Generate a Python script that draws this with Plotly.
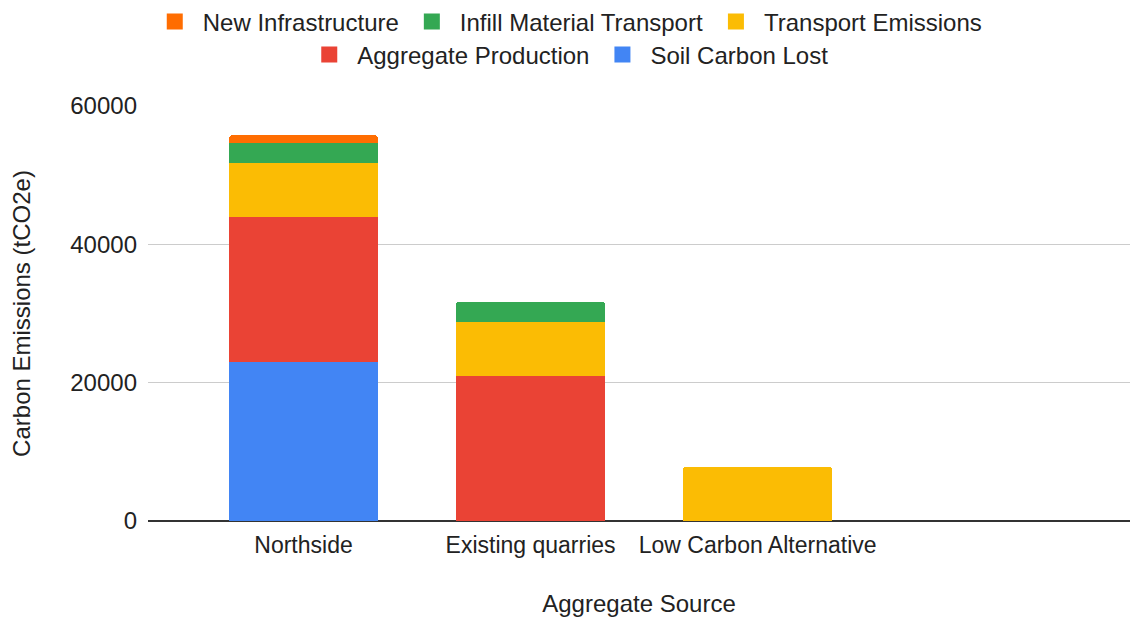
import plotly.graph_objects as go

# Aggregate sources on the x axis
categories = ["Northside", "Existing quarries", "Low Carbon Alternative"]

# Emission components (tCO2e), bottom of the stack first
soil_carbon_lost = [23000, None, None]
aggregate_production = [20900, 21000, None]
transport_emissions = [7800, 7800, 7850]
infill_material_transport = [2900, 2900, None]
new_infrastructure = [1150, None, None]

y_ticks = [0, 20000, 40000, 60000]

FONT = "Liberation Sans, Arial, sans-serif"
TEXT = "#222222"

series = [
    ("Soil Carbon Lost", soil_carbon_lost, "#4285F4", "legend2"),
    ("Aggregate Production", aggregate_production, "#EA4335", "legend2"),
    ("Transport Emissions", transport_emissions, "#FBBC04", "legend"),
    ("Infill Material Transport", infill_material_transport, "#34A853", "legend"),
    ("New Infrastructure", new_infrastructure, "#FF6D01", "legend"),
]

fig = go.Figure()
for name, vals, color, leg in series:
    fig.add_trace(go.Bar(
        name=name, x=categories, y=vals,
        marker=dict(color=color, line=dict(width=0)),
        width=0.656, showlegend=False, legendgroup=name,
    ))

# Legend entries with larger square swatches
for name, vals, color, leg in series:
    fig.add_trace(go.Scatter(
        name=name, x=[None], y=[None], mode="markers",
        marker=dict(symbol="square", size=16, color=color),
        legend=leg, legendgroup=name, showlegend=True, hoverinfo="skip",
    ))

legend_common = dict(
    orientation="h", xanchor="center", yanchor="middle",
    xref="container", yref="container",
    traceorder="reversed", bgcolor="rgba(0,0,0,0)",
    font=dict(family=FONT, size=24, color=TEXT),
    itemsizing="trace", itemwidth=46,
)

fig.update_layout(
    barmode="stack",
    barcornerradius=3,
    width=1130, height=619,
    paper_bgcolor="white", plot_bgcolor="white",
    margin=dict(l=148, r=0, t=106, b=98),
    font=dict(family=FONT, size=24, color=TEXT),
    legend=dict(x=0.502, y=1 - 22 / 619, **legend_common),
    legend2=dict(x=0.502, y=1 - 55 / 619, **legend_common),
    xaxis=dict(
        type="category",
        range=[-0.685, 3.64],
        showgrid=False, showline=False, zeroline=False,
        ticks="", ticklabelstandoff=8,
        tickfont=dict(family=FONT, size=23, color=TEXT),
        title=dict(text="Aggregate Source", standoff=38,
                   font=dict(family=FONT, size=24, color=TEXT)),
    ),
    yaxis=dict(
        range=[0, 60000],
        tickvals=y_ticks,
        ticktext=[str(v) for v in y_ticks],
        showgrid=True, gridcolor="#cccccc", gridwidth=1,
        zeroline=True, zerolinecolor="#333333", zerolinewidth=2,
        showline=False, ticks="", ticklabelstandoff=10,
        tickfont=dict(family=FONT, size=24, color=TEXT),
        title=dict(text="Carbon Emissions (tCO2e)", standoff=32,
                   font=dict(family=FONT, size=24, color=TEXT)),
    ),
)

fig.write_html("out.html")
